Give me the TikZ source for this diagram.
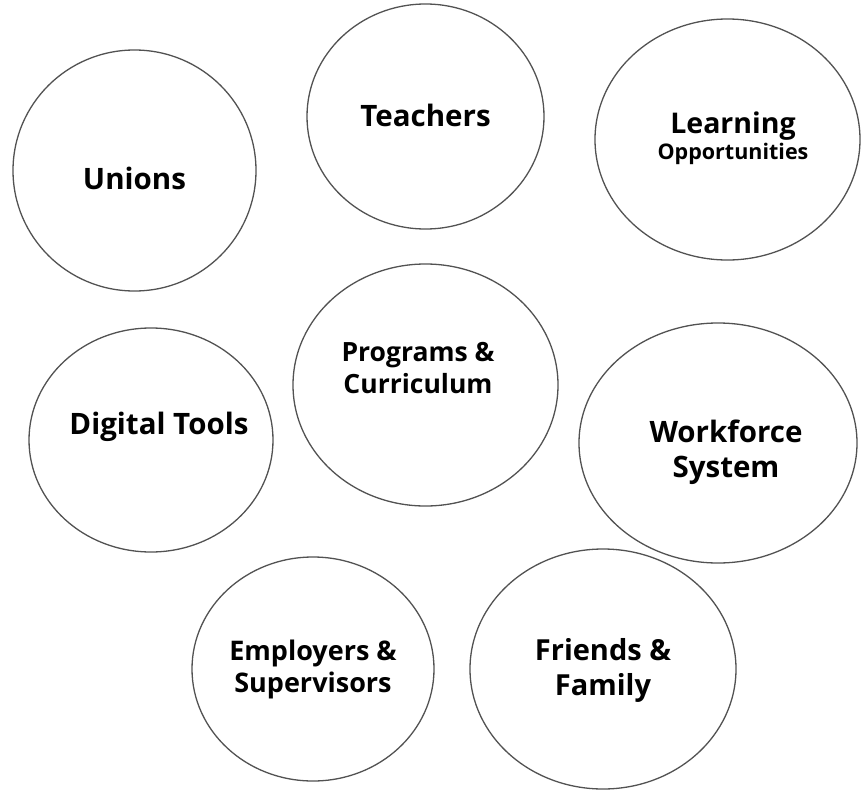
\documentclass[tikz,border=0pt]{standalone}
\usepackage{fontspec}
\setmainfont{Open Sans}

\tikzset{
  ring/.style={draw=black!68,line width=1.3pt},
  lbl/.style={inner sep=0pt,align=center,anchor=base},
}
\newcommand{\fs}[2]{\fontsize{#1}{#2}\selectfont\bfseries}

\begin{document}
\begin{tikzpicture}[x=1pt,y=-1pt]
  \useasboundingbox (0,0) rectangle (865,790);
  % the eight bubbles
  \draw[ring] (134.5,170.5) ellipse (121.5pt and 120.5pt);
  \draw[ring] (425.5,116.5) ellipse (118.5pt and 112.5pt);
  \draw[ring] (727.5,139.5) ellipse (132.5pt and 120.5pt);
  \draw[ring] (425.5,385)   ellipse (132.5pt and 121pt);
  \draw[ring] (151,440)     ellipse (122pt and 112pt);
  \draw[ring] (718,443)     ellipse (139pt and 120pt);
  \draw[ring] (313,669)     ellipse (121pt and 112pt);
  \draw[ring] (603,669)     ellipse (133pt and 120pt);
  % labels (base = last line)
  \node[lbl,font=\fs{29.5}{35}] (unions)    at (134.5,189.3) {Unions};
  \node[lbl,font=\fs{29.5}{35}] (teachers)  at (425.5,126)   {Teachers};
  \node[lbl,font=\fs{28.5}{28}] (learning)  at (733,159)
    {Learning\\[-2.5pt]{\fs{21.5}{28}Opportunities}};
  \node[lbl,font=\fs{26.5}{32.3}] (programs) at (418,393.3) {Programs \&\\Curriculum};
  \node[lbl,font=\fs{29.5}{35}] (digital)   at (159,434)     {Digital Tools};
  \node[lbl,font=\fs{29.5}{35}] (workforce) at (726,477.7)   {Workforce\\System};
  \node[lbl,font=\fs{27}{32}]   (employers) at (313,692.7)   {Employers \&\\Supervisors};
  \node[lbl,font=\fs{29}{35}]   (friends)   at (603,695)     {Friends \&\\Family};
\end{tikzpicture}
\end{document}
